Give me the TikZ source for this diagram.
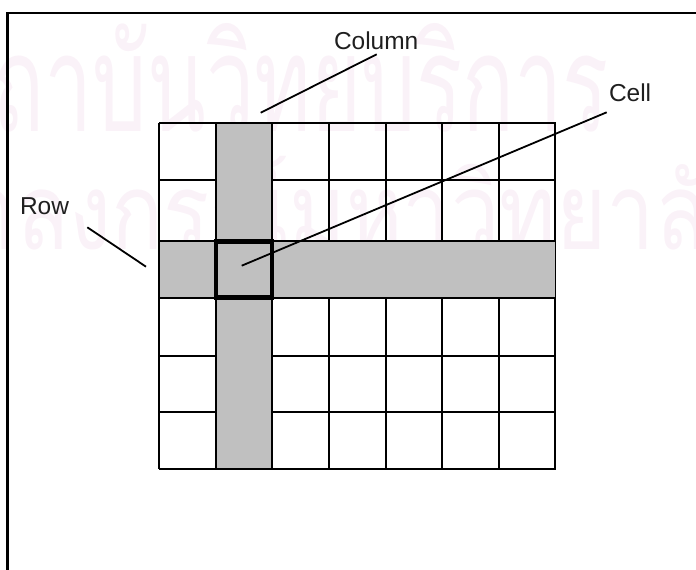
\documentclass[tikz,border=0pt]{standalone}
\usepackage{fontspec}
\setmainfont{Liberation Sans}
\newfontfamily\thaifont[Script=Thai]{Loma}
\definecolor{cellgray}{RGB}{192,192,192}
\definecolor{wmpink}{RGB}{250,242,248}
\tikzset{
  lbl/.style={inner sep=0pt, font=\fontsize{17.4pt}{20pt}\selectfont, text=black!88},
  wm/.style={inner sep=0pt, font=\thaifont\fontsize{72pt}{80pt}\selectfont, text=wmpink},
  leader/.style={line width=0.045cm},
}
\begin{document}
\begin{tikzpicture}[x=0.025cm, y=-0.025cm, line width=0.05cm]
    \useasboundingbox (0,0) rectangle (696,570);

    % Watermark
    \node[wm, anchor=base east] (wmtop) at (610,132) {\scalebox{0.85}[1.33]{สถาบันวิทยบริการ}};
    \node[wm, anchor=base west] (wmbot) at (-142,250) {\scalebox{0.85}[1.05]{จุฬาลงกรณ์มหาวิทยาลัย}};

    % Frame
    \draw (7.5,575) -- (7.5,13) -- (700,13);

    % Grid
    \foreach \i in {0,...,7}
        \draw (159+\i*56.64,123.5) -- (159+\i*56.64,469);
    \foreach \y in {123.5,180,241.5,297.5,356,412,469}
        \draw (159,\y) -- (555.5,\y);

    % Column and row shading
    \fill[cellgray] (216.6,124.5) rectangle (271.3,468);
    \fill[cellgray] (160,242.5) rectangle (554.5,296.5);

    % Cell
    \draw[line width=0.1cm] (215.6,241.5) rectangle (272.3,297.5);

    % Labels
    \node[lbl, anchor=base west] (col) at (333,49.3) {Column};
    \node[lbl, anchor=base west] (cell) at (608,102) {Cell};
    \node[lbl, anchor=base west] (row) at (19,215) {Row};

    % Leaders
    \coordinate (colA) at (376.7,54.3);
    \coordinate (colB) at (260.7,112.7);
    \coordinate (cellA) at (606.7,112.3);
    \coordinate (cellB) at (241.7,265.7);
    \coordinate (rowA) at (87.3,227.3);
    \coordinate (rowB) at (146,266.7);
    \draw[leader] (colA) -- (colB);
    \draw[leader] (cellA) -- (cellB);
    \draw[leader] (rowA) -- (rowB);

\end{tikzpicture}
\end{document}
